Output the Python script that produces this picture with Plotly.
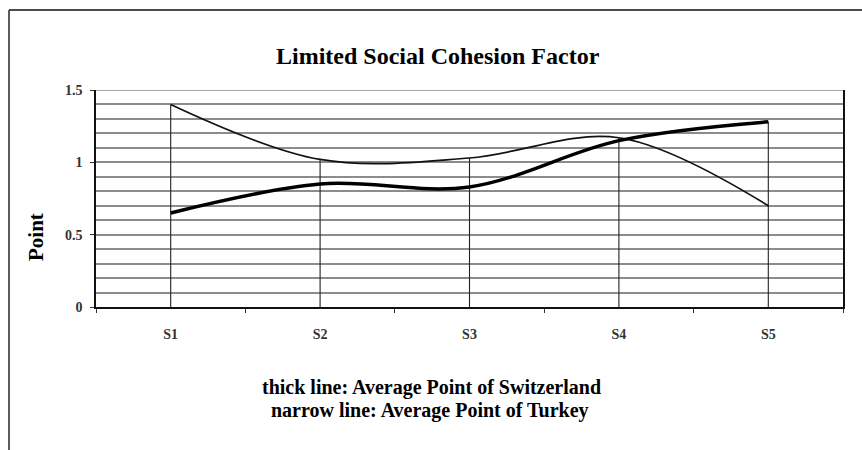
import plotly.graph_objects as go

categories = ["S1", "S2", "S3", "S4", "S5"]
switzerland = [0.65, 0.85, 0.83, 1.15, 1.28]
turkey = [1.40, 1.02, 1.03, 1.17, 0.70]
y_ticks = [0, 0.5, 1, 1.5]
y_tick_labels = ["0", "0.5", "1", "1.5"]

title_text = "Limited Social Cohesion Factor"
y_title = "Point"
note1 = "thick line: Average Point of Switzerland"
note2 = "narrow line: Average Point of Turkey"

FONT = "Liberation Serif, Times New Roman, serif"
W, H = 862, 450
L, R, T, B = 96, 843, 90, 307  # plot area pixels


def px_x(x):
    return (x - L) / (R - L)


def px_y(y):
    return (B - y) / (B - T)


drop = [max(a, b) for a, b in zip(switzerland, turkey)]

fig = go.Figure()

# drop lines (from highest point down to axis)
fig.add_trace(go.Scatter(
    x=categories, y=drop, mode="markers",
    marker=dict(size=1, color="rgba(0,0,0,0)"),
    error_y=dict(type="data", symmetric=False, array=[0] * len(drop),
                 arrayminus=drop, width=0, thickness=1.1, color="#222"),
    hoverinfo="skip", showlegend=False,
))

fig.add_trace(go.Scatter(
    x=categories, y=turkey, mode="lines", line_shape="spline",
    line=dict(color="#111", width=1.7, smoothing=1.0),
    name="Turkey", showlegend=False,
))
fig.add_trace(go.Scatter(
    x=categories, y=switzerland, mode="lines", line_shape="spline",
    line=dict(color="#000", width=3.5, smoothing=1.0),
    name="Switzerland", showlegend=False,
))

fig.update_layout(
    width=W, height=H,
    margin=dict(l=L, r=W - R, t=T, b=H - B, pad=0),
    paper_bgcolor="white", plot_bgcolor="white",
    font=dict(family=FONT, color="#111"),
    showlegend=False,
)

fig.update_xaxes(
    type="category", range=[-0.5, 4.5],
    tickvals=categories, ticktext=["<b>%s</b>" % c for c in categories],
    showgrid=False, zeroline=False,
    showline=True, linecolor="#111", linewidth=1.6,
    ticks="outside", tickson="boundaries", ticklen=4, tickcolor="#333",
    tickfont=dict(family=FONT, size=14, color="#333"),
    ticklabelstandoff=13,
)
fig.update_yaxes(
    range=[0, 1.5], tickvals=y_ticks,
    ticktext=["<b>%s</b>" % t for t in y_tick_labels],
    showgrid=True, gridcolor="#8c8c8c", gridwidth=1.6,
    minor=dict(dtick=0.1, showgrid=True, gridcolor="#8c8c8c", gridwidth=1.6),
    zeroline=False,
    showline=True, linecolor="#111", linewidth=1.6, mirror=True,
    ticks="outside", ticklen=4, tickcolor="#333",
    tickfont=dict(family=FONT, size=14, color="#333"),
    ticklabelstandoff=5,
)

annotations = [
    dict(text="<b>%s</b>" % title_text, x=px_x(438), y=px_y(56),
         font=dict(size=24, family=FONT, color="#000")),
    dict(text="<b>%s</b>" % y_title, x=px_x(36), y=px_y(237), textangle=-90,
         font=dict(size=21, family=FONT, color="#000")),
    dict(text="<b>%s</b>" % note1, x=px_x(431), y=px_y(387),
         font=dict(size=20, family=FONT, color="#000")),
    dict(text="<b>%s</b>" % note2, x=px_x(430), y=px_y(410),
         font=dict(size=20, family=FONT, color="#000")),
]
for a in annotations:
    a.update(xref="paper", yref="paper", showarrow=False,
             xanchor="center", yanchor="middle")
fig.update_layout(annotations=annotations)

# top gridline of plot area (y = max tick)
fig.add_shape(type="line", xref="paper", yref="y",
              x0=0, x1=1, y0=y_ticks[-1], y1=y_ticks[-1],
              line=dict(color="#8c8c8c", width=1.6))

# outer frame: top and left edges
fig.add_shape(type="line", xref="paper", yref="paper",
              x0=px_x(9), x1=px_x(W), y0=px_y(10), y1=px_y(10),
              line=dict(color="#111", width=1.6))
fig.add_shape(type="line", xref="paper", yref="paper",
              x0=px_x(9), x1=px_x(9), y0=px_y(10), y1=px_y(H),
              line=dict(color="#333", width=1.6))

fig.write_html("out.html",
               config={"displayModeBar": False},
               post_script="document.body.style.margin='0';"
                           "document.body.style.overflow='hidden';")
